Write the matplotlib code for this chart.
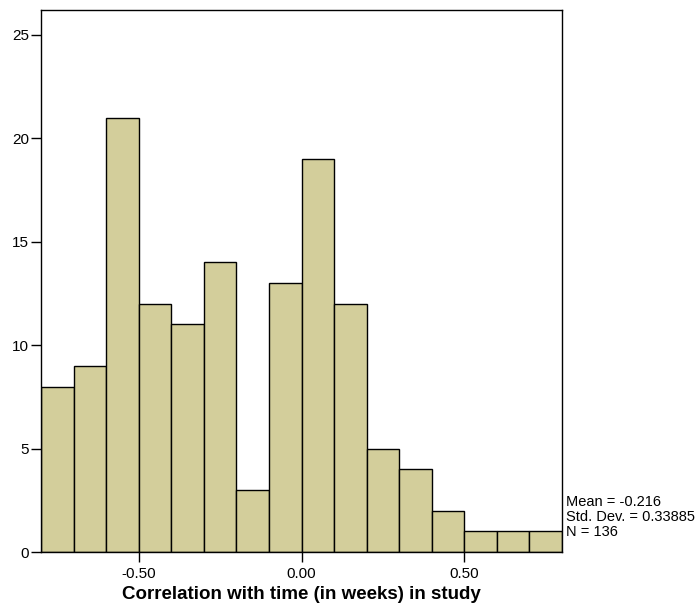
import matplotlib
matplotlib.use("Agg")
import matplotlib.pyplot as plt
import numpy as np

plt.rcParams['font.family'] = ['Liberation Sans', 'DejaVu Sans']

# histogram bins (width 0.1) and counts
bin_edges = [-0.8, -0.7, -0.6, -0.5, -0.4, -0.3, -0.2, -0.1, 0.0,
             0.1, 0.2, 0.3, 0.4, 0.5, 0.6, 0.7, 0.8]
counts = [8, 9, 21, 12, 11, 14, 3, 13, 19, 12, 5, 4, 2, 1, 1, 1]

x_ticks = [-0.5, 0.0, 0.5]
x_tick_labels = ["-0.50", "0.00", "0.50"]
y_ticks = [0, 5, 10, 15, 20, 25]

stats_text = "Mean = -0.216\nStd. Dev. = 0.33885\nN = 136"
x_title = "Correlation with time (in weeks) in study"

fig = plt.figure(figsize=(6.99, 6.08), dpi=100)
ax = fig.add_axes([41 / 699, 56 / 608, 521 / 699, 542 / 608])

edges = np.array(bin_edges)
ax.bar(edges[:-1], counts, width=np.diff(edges), align='edge',
       color='#d3ce9b', edgecolor='black', linewidth=1.0)

ax.set_xlim(-0.8, 0.8)
ax.set_ylim(0, 26.2)
ax.set_xticks(x_ticks)
ax.set_xticklabels(x_tick_labels)
ax.set_yticks(y_ticks)
ax.tick_params(axis='both', direction='out', length=7.5, width=1,
               labelsize=11)
ax.tick_params(axis='y', pad=1)
ax.tick_params(axis='x', pad=3)
for sp in ax.spines.values():
    sp.set_linewidth(1)

ax.set_xlabel(x_title, fontsize=13.5, fontweight='bold', va='top')
ax.xaxis.set_label_coords(0.5, -0.062)

fig.text(566 / 699, 1 - 517 / 608, stats_text, fontsize=10.5,
         ha='left', va='center', linespacing=1.05)

fig.savefig("out.png", dpi=100)
